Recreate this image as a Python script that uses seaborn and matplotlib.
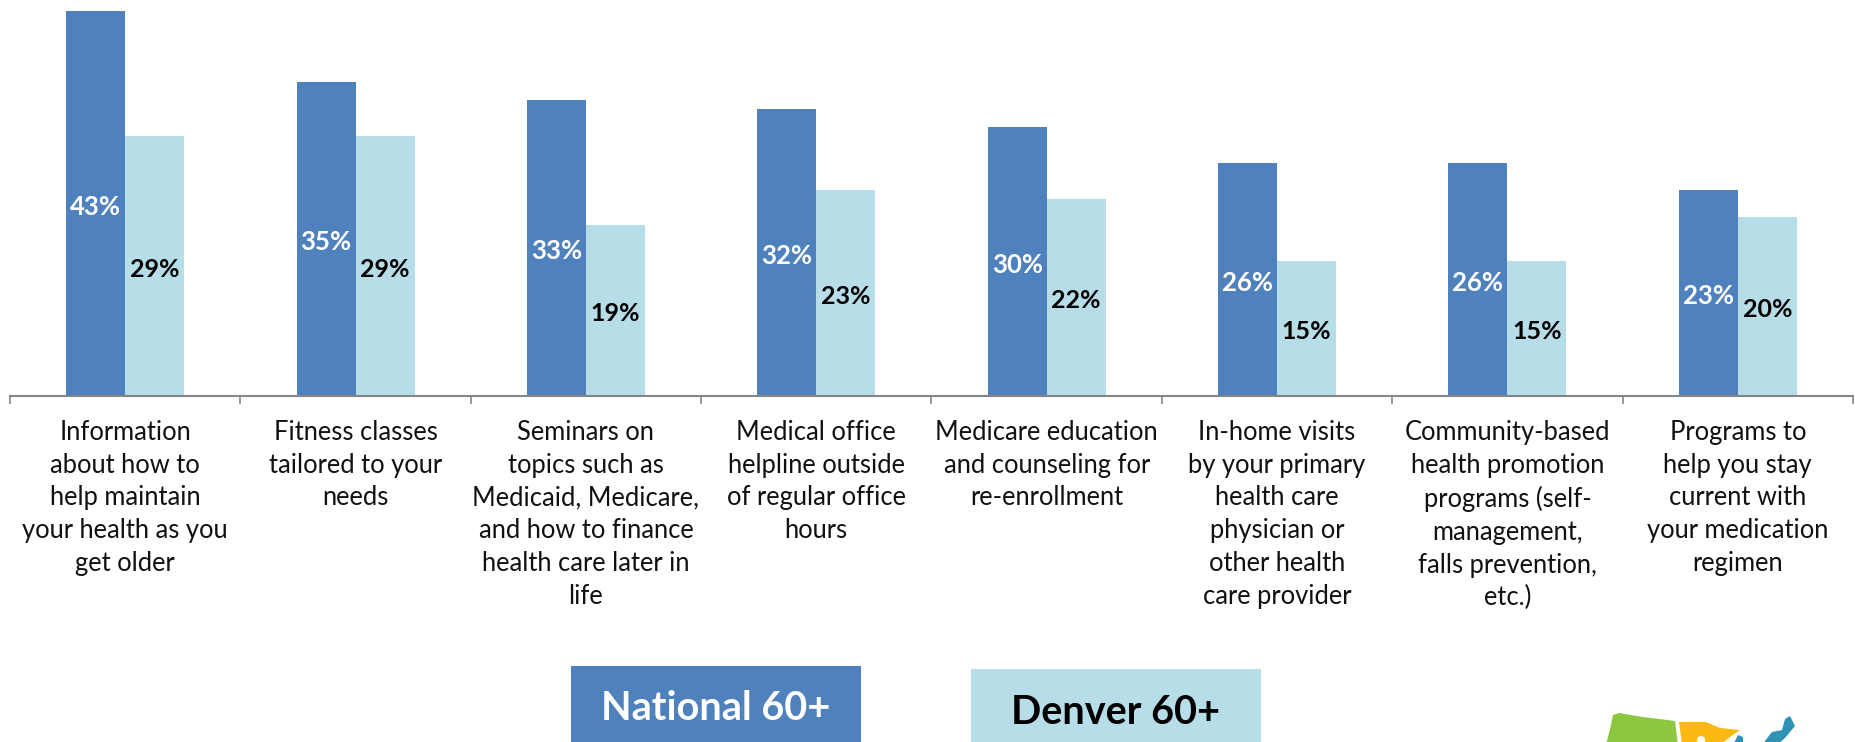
import matplotlib
matplotlib.use("Agg")
import matplotlib.pyplot as plt
import pandas as pd
import seaborn as sns
from matplotlib.patches import Polygon, Rectangle, Circle
from matplotlib.transforms import Affine2D

categories = [
    "Information\nabout how to\nhelp maintain\nyour health as you\nget older",
    "Fitness classes\ntailored to your\nneeds",
    "Seminars on\ntopics such as\nMedicaid, Medicare,\nand how to finance\nhealth care later in\nlife",
    "Medical office\nhelpline outside\nof regular office\nhours",
    "Medicare education\nand counseling for\nre-enrollment",
    "In-home visits\nby your primary\nhealth care\nphysician or\nother health\ncare provider",
    "Community-based\nhealth promotion\nprograms (self-\nmanagement,\nfalls prevention,\netc.)",
    "Programs to\nhelp you stay\ncurrent with\nyour medication\nregimen",
]
national = [43, 35, 33, 32, 30, 26, 26, 23]
denver = [29, 29, 19, 23, 22, 15, 15, 20]
series_names = ["National 60+", "Denver 60+"]
BLUE, LIGHT = "#4F81BD", "#B7DEE8"
FONT = "Lato"

W, H = 1855, 742
sns.set_theme(style="white")
plt.rcParams["font.family"] = [FONT, "DejaVu Sans"]

df = pd.DataFrame({
    "cat": categories * 2,
    "value": national + denver,
    "series": [series_names[0]] * 8 + [series_names[1]] * 8,
})

fig = plt.figure(figsize=(W / 100, H / 100), dpi=100, facecolor="white")
ax = fig.add_axes([10 / W, 1 - 395.5 / H, (1853 - 10) / W, 395.5 / H])
sns.barplot(data=df, x="cat", y="value", hue="series", hue_order=series_names,
            palette=[BLUE, LIGHT], width=0.512, gap=0, saturation=1,
            legend=False, ax=ax, linewidth=0)
ax.set_xlim(-0.5, 7.5)
ax.set_ylim(0, 395.5 / 8.95)
ax.set_xlabel("")
ax.set_ylabel("")
ax.set_yticks([])
for s in ["top", "left", "right"]:
    ax.spines[s].set_visible(False)
ax.spines["bottom"].set_color("#868686")
ax.spines["bottom"].set_linewidth(1.5)
ax.set_xticks([i - 0.5 for i in range(9)], minor=True)
ax.tick_params(axis="x", which="minor", bottom=True, length=6, width=1.2,
               color="#868686", direction="out")
ax.tick_params(axis="x", which="major", bottom=False, length=0, pad=17.5)
ax.set_xticks(range(8))
ax.set_xticklabels(categories, fontsize=18.4, color="#111111", linespacing=1.39,
                   va="top", ha="center")

for cont, col, size in zip(ax.containers, ["white", "black"], [18.5, 18]):
    lbls = ax.bar_label(cont, fmt="%d%%", label_type="center", color=col,
                        fontsize=size, fontweight="bold")
    for t in lbls:
        t.xyann = (0, -2.5)

# legend boxes (extend past the bottom of the picture)
def pix(x0, y0, x1, y1, color):
    fig.add_artist(Rectangle((x0 / W, 1 - y1 / H), (x1 - x0) / W, (y1 - y0) / H,
                             transform=fig.transFigure, facecolor=color,
                             edgecolor="none"))

pix(571, 666, 861, 760, BLUE)
pix(971, 669, 1261, 760, LIGHT)
fig.text(716 / W, 1 - 708 / H, series_names[0], color="white", fontsize=28.5,
         fontweight="bold", ha="center", va="center")
fig.text(1116 / W, 1 - 713 / H, series_names[1], color="black", fontsize=28.5,
         fontweight="bold", ha="center", va="center")

# cropped map logo in the bottom corner, in picture pixels
to_fig = Affine2D().scale(1, -1).translate(0, H) + Affine2D().scale(1 / W, 1 / H) + fig.transFigure
map_green = [(1606, 745), (1611, 725), (1613, 715), (1619, 713), (1643, 717), (1675, 721), (1678, 745)]
map_orange = [(1679, 722), (1706, 722), (1720, 728), (1740, 730), (1730, 737), (1720, 745), (1682, 745)]
map_lake = [(1733, 745), (1738, 735), (1743, 737), (1743, 745)]
map_blue = [(1762, 745), (1768, 737), (1772, 732), (1782, 730), (1785, 719), (1790, 716), (1795, 726), (1785, 738), (1777, 745)]
for pts, c in [(map_green, "#8DC63F"), (map_orange, "#FDB913"), (map_lake, "#2E93B5"), (map_blue, "#2E93B5")]:
    fig.add_artist(Polygon(pts, closed=True, transform=to_fig, facecolor=c, edgecolor="none"))
fig.add_artist(Circle((1701, 740), 4, transform=to_fig, facecolor="white", edgecolor="none"))

fig.savefig("out.png", dpi=100)
